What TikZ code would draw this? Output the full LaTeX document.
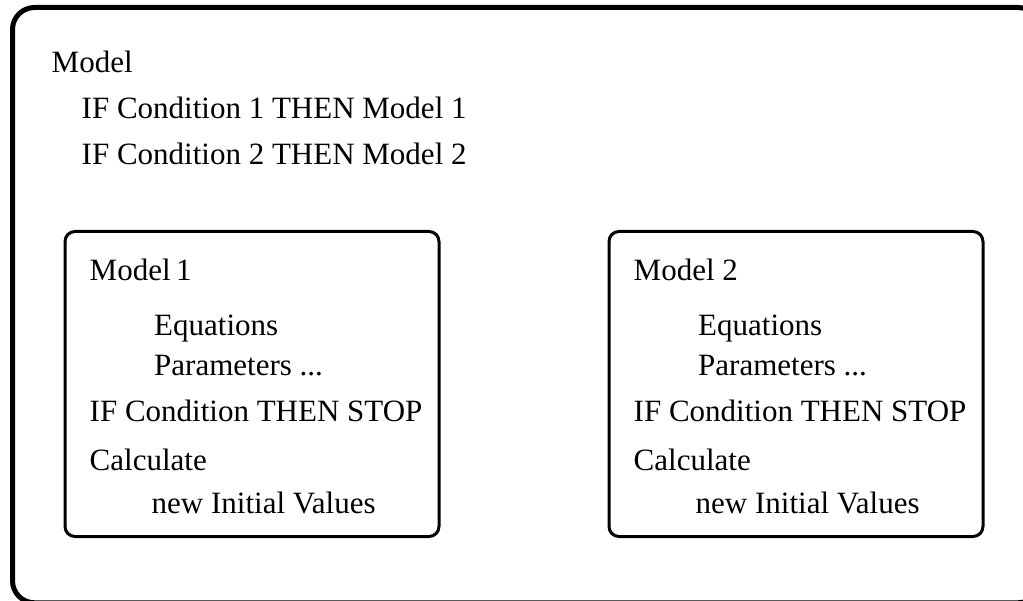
\documentclass[tikz,border=0pt]{standalone}
\usepackage{fontspec}
\setmainfont{Liberation Serif}
\begin{document}
\begin{tikzpicture}[x=1pt,y=-1pt,
  txt/.style={anchor=base west,inner sep=0pt,font=\fontsize{31}{36}\selectfont},
  outerbox/.style={draw=black,line width=5pt,rounded corners=22pt},
  modelbox/.style={draw=black,line width=3pt,rounded corners=10pt}]
\useasboundingbox (0,0) rectangle (1023,601);
\clip (0,0) rectangle (1023,601);
\draw[outerbox] (12.5,7.5) rectangle (1040,602.8);
% top text
\node[txt] (mdl) at (51.5,73) {Model};
\node[txt] (if1) at (81.5,119) {IF Condition 1 THEN Model 1};
\node[txt] (if2) at (81.5,165) {IF Condition 2 THEN Model 2};
% box 1
\draw[modelbox] (65,231.5) rectangle (439,536.5);
\node[txt] (m1) at (89.5,281) {Model\hspace{0.18em}1};
\node[txt] (eq1) at (154,336) {Equations};
\node[txt] (par1) at (154,376) {Parameters ...};
\node[txt] (st1) at (89.5,421) {IF Condition THEN STOP};
\node[txt] (ca1) at (89.5,470) {Calculate};
\node[txt] (nv1) at (151.5,513) {new Initial Values};
% box 2
\draw[modelbox] (609,231.5) rectangle (983,536.5);
\node[txt] (m2) at (633.5,281) {Model 2};
\node[txt] (eq2) at (698,336) {Equations};
\node[txt] (par2) at (698,376) {Parameters ...};
\node[txt] (st2) at (633.5,421) {IF Condition THEN STOP};
\node[txt] (ca2) at (633.5,470) {Calculate};
\node[txt] (nv2) at (695.5,513) {new Initial Values};
\end{tikzpicture}
\end{document}
